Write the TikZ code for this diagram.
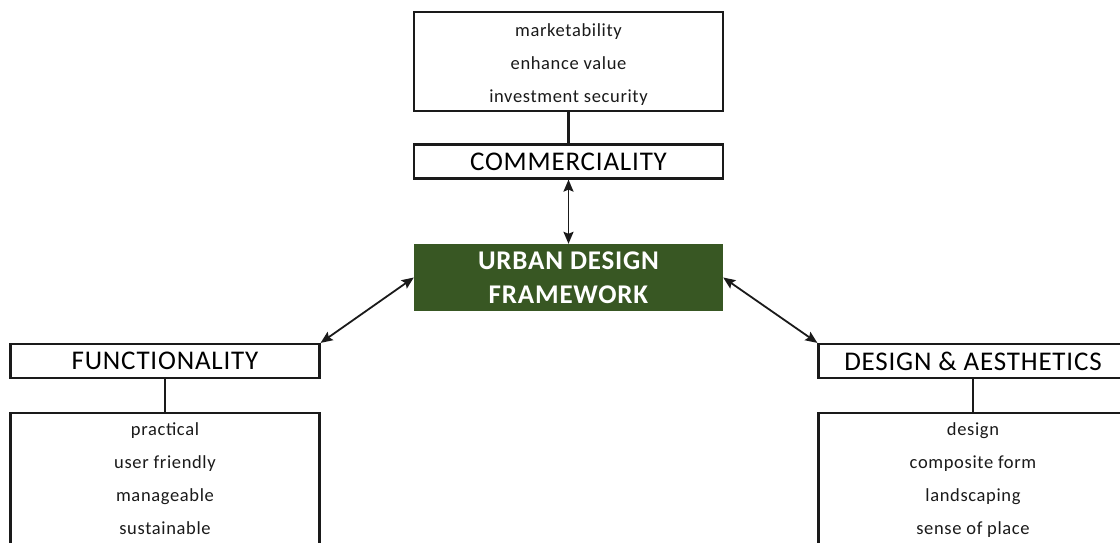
\documentclass[tikz,border=0pt]{standalone}
\usepackage{fontspec}
\setmainfont{Carlito}
\newfontfamily\itemfont[LetterSpace=3.5]{Carlito}
\newfontfamily\headfont[LetterSpace=3]{Carlito}
\usetikzlibrary{arrows.meta}
\definecolor{udgreen}{HTML}{385723}
\definecolor{lineblack}{HTML}{1A1A1A}
\tikzset{
  box/.style={draw=lineblack, line width=2.2pt, fill=white, inner sep=0pt},
  headbox/.style={box, minimum width=309pt, minimum height=34pt,
    font=\headfont\fontsize{27}{32}\selectfont},
  listbox/.style={box, minimum width=309pt, minimum height=200pt, anchor=north},
  items/.style={align=center, inner sep=0pt, anchor=north, text=lineblack,
    font=\itemfont\fontsize{18.5}{33}\selectfont},
  corebox/.style={fill=udgreen, text=white, minimum width=309pt, minimum height=67pt,
    inner sep=0pt, align=center, font=\headfont\bfseries\fontsize{27}{34}\selectfont},
  link/.style={draw=lineblack, line width=2.2pt},
  biarrow/.style={draw=lineblack, line width=1.8pt,
    {Stealth[length=12pt,width=10pt,inset=2pt]}-{Stealth[length=12pt,width=10pt,inset=2pt]}}
}
\begin{document}
\begin{tikzpicture}[x=1pt,y=-1pt]
\useasboundingbox (0,0) rectangle (1120,542);
\clip (0,0) rectangle (1120,542);
% top: commerciality
\node[box, minimum width=309pt, minimum height=99pt] (topbox) at (568.5,61.5) {};
\node[items] (toptext) at (568.5,23.5) {marketability\\enhance value\\investment security};
\node[headbox] (comm) at (568.5,161.5) {COMMERCIALITY};
% core
\node[corebox] (core) at (568.5,277.5) {URBAN DESIGN\\FRAMEWORK};
% left: functionality
\node[headbox] (func) at (165,361) {FUNCTIONALITY};
\node[listbox] (funclist) at (165,412) {};
\node[items] (functext) at (165,422.5) {practical\\user friendly\\manageable\\sustainable};
% right: design & aesthetics
\node[headbox] (design) at (973,361) {DESIGN \& AESTHETICS};
\node[listbox] (designlist) at (973,412) {};
\node[items] (designtext) at (973,422.5) {design\\composite form\\landscaping\\sense of place};
% connectors
\draw[link] (topbox.south) -- (comm.north);
\draw[link] (func.south) -- (funclist.north);
\draw[link] (design.south) -- (designlist.north);
\draw[biarrow] (comm.south) -- (core.north);
\draw[biarrow] (func.north east) -- (core.west);
\draw[biarrow] (core.east) -- (design.north west);
\end{tikzpicture}
\end{document}
